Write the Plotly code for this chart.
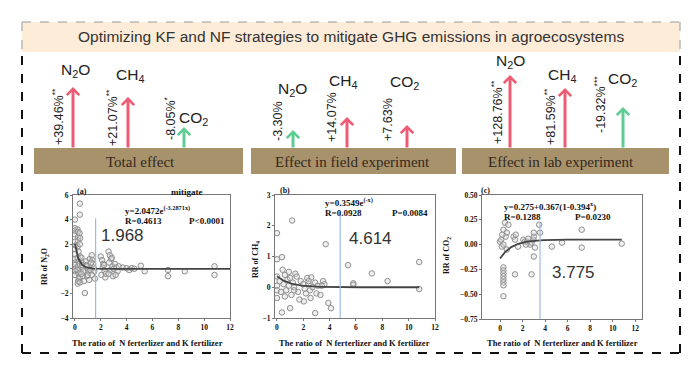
import numpy as np
import plotly.graph_objects as go

W, H = 692, 362          # page body has an 8px margin, so the figure is drawn 8px in
OFF = 8
def px(x): return (x - OFF) / W
def py(y): return 1 - (y - OFF) / H

# ---------------- data ----------------
TITLE = "Optimizing KF and NF strategies to mitigate GHG emissions in agroecosystems"
PANELS = ["Total effect", "Effect in field experiment", "Effect in lab experiment"]
GASES = ["N<sub>2</sub>O", "CH<sub>4</sub>", "CO<sub>2</sub>"]
EFFECT_LABELS = [
    ["+39.46%<sup>**</sup>", "+21.07%<sup>**</sup>", "-8.05%<sup>*</sup>"],
    ["-3.30%", "+14.07%", "+7.63%"],
    ["+128.76%<sup>**</sup>", "+81.59%<sup>**</sup>", "-19.32%<sup>***</sup>"],
]
EFFECT_SIGN = [[1, 1, -1], [-1, 1, 1], [1, 1, -1]]

# panel (a): RR of N2O
a_x = [0, 0, 0, 0, 0, 0, 0, 0, 0, 0, 0, 0, 0, 0.05,
       0.2, 0.22, 0.25, 0.25, 0.2, 0.28, 0.22, 0.3, 0.25, 0.2, 0.28, 0.3, 0.22, 0.25,
       0.38, 0.38, 0.36, 0.4, 0.38, 0.4, 0.36, 0.4, 0.38, 0.4,
       0.5, 0.55, 0.6, 0.65, 0.6, 0.7, 0.5, 0.55,
       0.77,
       0.85, 0.9, 1.0, 1.05, 0.95, 1.1, 1.15, 1.2, 0.9, 1.0,
       1.3, 1.35, 1.4, 1.45, 1.5, 1.3, 1.55, 1.25,
       2.0, 2.1, 2.2, 2.15, 2.3, 2.05, 2.35, 2.25, 2.4,
       2.6, 2.7, 2.8, 2.65, 2.9, 2.75, 2.6, 2.95, 2.85, 3.0,
       3.1, 3.2, 3.3, 3.15, 3.4,
       3.7, 4.0, 4.2, 4.4, 4.6,
       5.1, 5.4, 7.2, 7.2, 8.5, 10.8, 10.8]
a_y = [4.0, 3.3, 3.1, 2.8, 2.2, 1.6, 1.2, 0.8, 0.5, 0.3, 0.0, -0.2, -0.5, 1.9,
       3.2, 3.0, 2.6, 2.3, 1.8, 1.4, 0.9, 0.6, 0.2, -0.1, -0.4, -0.8, -1.2, -1.0,
       5.3, 4.4, 2.9, 2.5, 2.0, 1.0, 0.4, -0.3, -0.7, -1.1,
       0.9, 0.5, 0.1, -0.2, -0.6, -1.0, -0.4, 0.3,
       -1.97,
       0.6, 0.3, 0.0, -0.3, -0.6, -0.9, 0.8, -0.1, 0.2, -0.5,
       1.1, 0.7, 0.4, 0.1, -0.2, -0.5, -0.8, 0.5,
       1.0, 0.7, 0.4, 0.1, -0.2, -0.5, -0.7, 0.3, -0.4,
       1.4, 1.1, 0.8, 0.5, 0.2, -0.1, -0.4, -0.6, 0.9, 0.0,
       0.4, 0.1, -0.2, -0.5, 0.2,
       0.1, 0.05, -0.1, 0.05, 0.0,
       0.25, -0.2, -0.1, -0.6, -0.2, 0.2, -0.5]

# panel (b): RR of CH4
b_x = [0, 0, 0.38, 1.15, 3.7, 0, 0.43, 0.9, 1.4, 0, 0, 0, 0.38, 1.0, 2.9, 3.9, 4.1,
       2.04, 2.55, 0.2, 0.5, 0.7, 0.8, 1.0, 1.2, 1.3, 1.5, 1.6, 1.8, 2.0, 2.1, 2.3,
       2.4, 2.5, 2.6, 2.7, 2.9, 3.0, 3.1, 3.3, 3.5, 3.6, 0.6, 1.1, 1.7, 2.2, 0.3,
       0.9, 1.3, 2.4, 0.6, 3.4, 5.4, 5.8, 5.8, 7.2, 8.4, 10.8, 10.8]
b_y = [1.76, 0.91, 0.98, 2.17, 1.40, 0.35, 0.57, 0.5, 0.44, 0.05, -0.1, -0.35, -0.82,
       -0.68, -0.84, -0.51, -0.68, -0.46, -0.35, 0.2, 0.1, -0.1, 0.25, 0.3, 0.15, 0.0,
       0.35, -0.15, 0.2, 0.1, -0.05, 0.3, 0.1, -0.1, 0.32, 0.0, 0.15, -0.2, 0.05, -0.25,
       0.2, 0.1, -0.3, -0.25, -0.4, -0.2, -0.15, 0.05, -0.1, 0.2, 0.4, 0.05,
       0.72, 0.13, 0.08, 0.45, 0.2, 0.82, -0.06]

# panel (c): RR of CO2
c_x = [0, 0.3, 0.44, 0.6, 0.74, 0.15, 0.1, 0.5, 0.3, 0.6, 0.2,
       0.3, 0.3, 0.3, 0.3, 0.3, 0.3, 0.3, 0.3,
       1.33, 2.8,
       1.2, 1.33, 1.4, 1.6, 2.07, 2.2, 2.4, 2.5, 2.67, 2.8, 2.96, 3.0, 3.0, 3.1, 3.0, 2.3,
       3.47, 3.55, 4.6, 5.5, 7.25, 7.25, 10.8]
c_y = [0.03, 0.15, 0.22, 0.12, 0.2, -0.02, 0.05, 0.08, 0.0, -0.05, 0.1,
       -0.23, -0.26, -0.29, -0.32, -0.35, -0.38, -0.41, -0.52,
       -0.3, -0.3,
       0.08, 0.05, 0.1, -0.02, 0.05, 0.03, 0.03, 0.06, 0.0, 0.02, 0.05, 0.08, 0.12, -0.03, -0.12, 0.0,
       0.2, 0.12, -0.02, 0.02, 0.15, -0.03, 0.01]

THRESH = ["1.968", "4.614", "3.775"]
EQS = ["y=2.0472e<sup>(-3.2871x)</sup>", "y=0.3549e<sup>(-x)</sup>", "y=0.275+0.367(1-0.394<sup>x</sup>)"]
R_TXT = ["R=0.4613", "R=0.0928", "R=0.1288"]
P_TXT = ["P<0.0001", "P=0.0084", "P=0.0230"]
YTITLES = ["RR of N<sub>2</sub>O", "RR of CH<sub>4</sub>", "RR of CO<sub>2</sub>"]
XTITLE = "The ratio of  N ferterlizer and K fertilizer"

# ---------------- styling / positions ----------------
SERIF = "Liberation Serif"
SANS = "Liberation Sans"
RED = "#ee5c74"
GREEN = "#5fcd93"
SOIL = "#a8926c"

fig = go.Figure()
shapes, ann = [], []

def text(t, x, y, font, xanchor="center", yanchor="middle", angle=0):
    ann.append(dict(text=t, x=px(x), y=py(y), xref="paper", yref="paper", showarrow=False,
                    xanchor=xanchor, yanchor=yanchor, textangle=angle, font=font))

def seg(x0, y0, x1, y1, col, w, dash):
    shapes.append(dict(type="line", xref="paper", yref="paper", x0=px(x0), x1=px(x1), y0=py(y0), y1=py(y1),
                       line=dict(color=col, width=w, dash=dash)))

# title band + outer dashed border
shapes.append(dict(type="rect", xref="paper", yref="paper", x0=px(22), x1=px(680), y0=py(52), y1=py(22),
                   fillcolor="#fdecd8", line=dict(width=0), layer="below"))
seg(22, 22, 680, 22, "#999", 1.2, "dash")
seg(22, 22, 22, 52, "#aaa", 1.2, "dash")
seg(680, 22, 680, 52, "#aaa", 1.2, "dash")
seg(22, 56, 22, 353, "#111", 2, "dash")
seg(680, 56, 680, 353, "#111", 2, "dash")
seg(22, 353, 680, 353, "#111", 2, "dash")
text(TITLE, 351, 37, dict(family=SANS, size=15.5, color="#333"))

# soil strips
soil_x = [(34, 243), (251, 456), (462, 669)]
label_cx = [140, 352, 561]
for i, (x0, x1) in enumerate(soil_x):
    shapes.append(dict(type="rect", xref="paper", yref="paper", x0=px(x0), x1=px(x1), y0=py(174), y1=py(148),
                       fillcolor=SOIL, line=dict(width=0), layer="below"))
    text(PANELS[i], label_cx[i], 162, dict(family=SERIF, size=15, color="#33291b"))

# arrows + labels
arrow_x = [[73, 128, 184], [293, 347, 407], [510, 565, 623]]
arrow_top = [[87, 97, 127], [130, 117, 125], [75, 88, 107]]
lab_x = [[58, 112, 170], [278, 332, 388], [497, 550, 600]]
lab_cy = [[117, 118, 118], [121, 117, 120], [112, 117, 105]]
gas_pos = [[(75, 70), (130, 75), (193, 118)], [(292, 90), (343, 81), (405, 83)],
           [(510, 62), (562, 75), (622, 80)]]
BASE = 149
for p in range(3):
    for g in range(3):
        col = RED if EFFECT_SIGN[p][g] > 0 else GREEN
        ann.append(dict(x=px(arrow_x[p][g]), y=py(arrow_top[p][g]), xref="paper", yref="paper",
                        ax=0, ay=BASE - arrow_top[p][g], text="", showarrow=True,
                        arrowhead=4, arrowsize=0.8, arrowwidth=3, arrowcolor=col))
        text(EFFECT_LABELS[p][g], lab_x[p][g], lab_cy[p][g], dict(family=SANS, size=12.5, color="#222"),
             angle=-90)
        gx, gy = gas_pos[p][g]
        text(GASES[g], gx, gy, dict(family=SANS, size=15.5, color="#222"))

# scatter panels
doms_x = [(73, 230), (275, 435), (482, 642)]
doms_y = [(195, 318), (195, 318), (195, 319)]
xr = [[-0.15, 12], [-0.15, 12], [-1.6, 12.6]]
yr = [[-4, 6], [-1, 3], [-0.75, 0.5]]
ydtick = [2, 1, 0.25]
yfmt = ["d", "d", ".2f"]
data = [(a_x, a_y), (b_x, b_y), (c_x, c_y)]

# fitted curves
fit_x = [np.linspace(0, 12, 200), np.linspace(0, 10.8, 200), np.linspace(0, 10.8, 200)]
fit_y = [2.0472 * np.exp(-3.2871 * fit_x[0]),
         0.3549 * np.exp(-fit_x[1]),
         -0.14 + 0.19 * (1 - 0.394 ** fit_x[2])]
vline_x = [1.6, 4.8, 3.55]
vline_top = [4.1, 2.45, 0.22]

layout_axes = {}
for i in range(3):
    sx = "" if i == 0 else str(i + 1)
    xa, ya = "x" + sx, "y" + sx
    fig.add_trace(go.Scatter(x=data[i][0], y=data[i][1], mode="markers", xaxis=xa, yaxis=ya,
                             marker=dict(size=5.5, color="rgba(215,215,215,0.4)",
                                         line=dict(color="#8f8f8f", width=1)),
                             showlegend=False, hoverinfo="skip"))
    fig.add_trace(go.Scatter(x=fit_x[i], y=fit_y[i], mode="lines", xaxis=xa, yaxis=ya,
                             line=dict(color="#444", width=1.8), showlegend=False, hoverinfo="skip"))
    shapes.append(dict(type="line", xref=xa, yref=ya, x0=vline_x[i], x1=vline_x[i],
                       y0=yr[i][0], y1=vline_top[i], line=dict(color="#9dbce4", width=1.2)))
    axfont = dict(family=SERIF, size=7.5, color="#111", weight="bold")
    layout_axes["xaxis" + sx] = dict(domain=[px(doms_x[i][0]), px(doms_x[i][1])], range=xr[i],
                                     anchor=ya, dtick=2, tick0=0, showgrid=False, zeroline=False,
                                     showline=True, linecolor="#777", linewidth=1, mirror=True,
                                     ticks="outside", ticklen=2, tickcolor="#777", tickfont=axfont,
                                     automargin=False)
    layout_axes["yaxis" + sx] = dict(domain=[py(doms_y[i][1]), py(doms_y[i][0])], range=yr[i],
                                     anchor=xa, dtick=ydtick[i], tickformat=yfmt[i], showgrid=False,
                                     zeroline=False, showline=True, linecolor="#777", linewidth=1,
                                     mirror=True, ticks="outside", ticklen=2, tickcolor="#777",
                                     tickfont=axfont, automargin=False)

# panel texts
xt_cx = [147, 355, 562]
yt_x = [45, 256, 447]
yt_cy = [267, 260, 255]
tag_pos = [(82, 191), (285, 190), (485, 190)]
tags = ["(a)", "(b)", "(c)"]
eq_pos = [(123, 210), (323, 202), (502, 206)]
r_pos = [(123, 221), (323, 213), (502, 217)]
p_right = [227, 430, 613]
th_pos = [(123, 235), (371, 238), (573, 272)]
bf = dict(family=SERIF, size=8, color="#111", weight="bold")
ef = dict(family=SERIF, size=9, color="#111", weight="bold")
for i in range(3):
    text(XTITLE, xt_cx[i], 343, dict(family=SERIF, size=8.5, color="#111", weight="bold"))
    text(YTITLES[i], yt_x[i], yt_cy[i], bf, angle=-90)
    text(tags[i], tag_pos[i][0], tag_pos[i][1], bf)
    text(EQS[i], eq_pos[i][0], eq_pos[i][1], ef, xanchor="left")
    text(R_TXT[i], r_pos[i][0], r_pos[i][1], ef, xanchor="left")
    text(P_TXT[i], p_right[i], r_pos[i][1], ef, xanchor="right")
    text(THRESH[i], th_pos[i][0], th_pos[i][1], dict(family=SANS, size=17, color="#333"))
text("mitigate", 187, 192, ef)

fig.update_layout(width=W, height=H, margin=dict(l=0, r=0, t=0, b=0, pad=0, autoexpand=False),
                  paper_bgcolor="white",
                  plot_bgcolor="white", shapes=shapes, annotations=ann, showlegend=False, **layout_axes)
fig.write_html("out.html")
